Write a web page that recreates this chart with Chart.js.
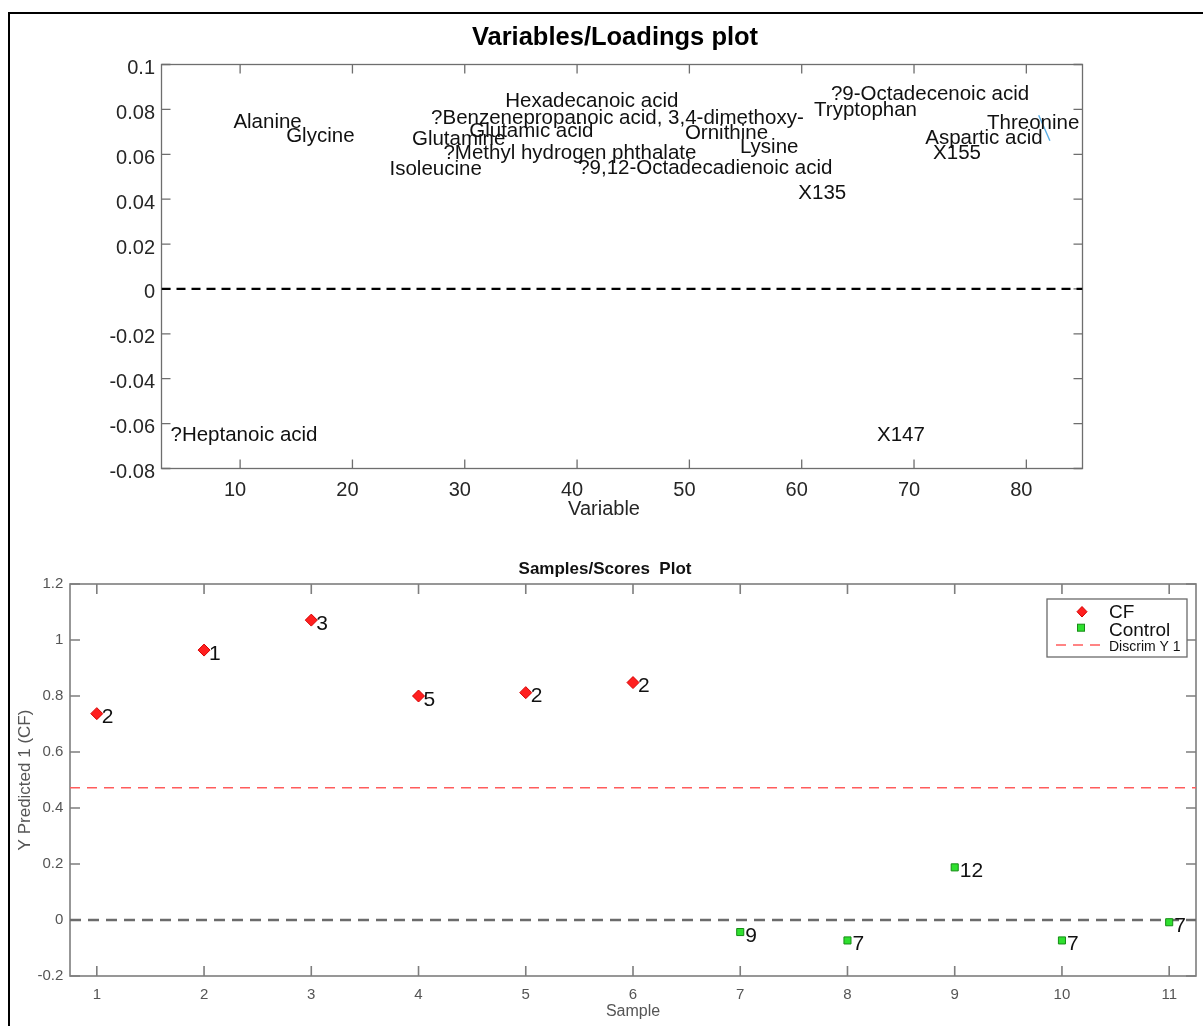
<!DOCTYPE html>
<html>
<head>
<meta charset="utf-8">
<title>Variables/Loadings plot</title>
<script src="https://cdn.jsdelivr.net/npm/chart.js@4.4.1/dist/chart.umd.min.js"></script>
<style>
  html, body { margin: 0; padding: 0; background: #fff; }
  body { width: 1203px; height: 1026px; position: relative; overflow: hidden; }
  #frame { position: absolute; left: 8px; top: 12px; right: 0; bottom: 0;
           border-top: 2px solid #000; border-left: 2px solid #000; }
  #topWrap { position: absolute; left: 0; top: 0; }
  #botWrap { position: absolute; left: 0; top: 540px; }
</style>
</head>
<body>
<div id="frame"></div>
<div id="topWrap"><canvas id="loadings" width="1203" height="540"></canvas></div>
<div id="botWrap"><canvas id="scores" width="1203" height="486"></canvas></div>
<script>
// ---- Variables/Loadings plot: variable number, loading, name
const loadNames = ["Alanine", "Glycine", "Isoleucine", "Glutamine",
  "?Benzenepropanoic acid, 3,4-dimethoxy-", "?Methyl hydrogen phthalate",
  "Glutamic acid", "Hexadecanoic acid", "?9,12-Octadecadienoic acid",
  "Ornithine", "Lysine", "X135", "Tryptophan", "?9-Octadecenoic acid",
  "Aspartic acid", "X155", "Threonine", "?Heptanoic acid", "X147"];
const loadX = [9.4, 14.1, 23.3, 25.3, 27.0, 28.1, 30.4, 33.6, 40.1,
  49.6, 54.5, 59.7, 61.1, 62.6, 71.0, 71.7, 76.5, 3.8, 66.7];
const loadY = [0.0744, 0.0682, 0.0532, 0.0666, 0.0762, 0.0604, 0.0700, 0.0838, 0.0537,
  0.0693, 0.0630, 0.0428, 0.0796, 0.0868, 0.0670, 0.0604, 0.0740, -0.0651, -0.0651];
// small blue stroke next to Threonine
const segX = [81.1, 82.1];
const segY = [0.0774, 0.0660];

const loadXRange = [3, 85];
const loadYRange = [-0.08, 0.1];
const loadXTicks = [10, 20, 30, 40, 50, 60, 70, 80];
const loadXLabels = ["10", "20", "30", "40", "50", "60", "70", "80"];
const loadYTicks = [-0.08, -0.06, -0.04, -0.02, 0, 0.02, 0.04, 0.06, 0.08, 0.1];
const loadYLabels = ["-0.08", "-0.06", "-0.04", "-0.02", "0", "0.02", "0.04", "0.06", "0.08", "0.1"];

// ---- Samples/Scores plot
const cfSamples = [1, 2, 3, 4, 5, 6];
const cfScores = [0.737, 0.964, 1.071, 0.800, 0.812, 0.848];
const cfText = ["2", "1", "3", "5", "2", "2"];
const ctrlSamples = [7, 8, 9, 10, 11];
const ctrlScores = [-0.043, -0.073, 0.188, -0.073, -0.008];
const ctrlText = ["9", "7", "12", "7", "7"];
const discrimY = 0.472;

const sampRange = [0.75, 11.25];
const scoreRange = [-0.2, 1.2];
const sampTicks = [1, 2, 3, 4, 5, 6, 7, 8, 9, 10, 11];
const sampLabels = ["1", "2", "3", "4", "5", "6", "7", "8", "9", "10", "11"];
const scoreTicks = [-0.2, 0, 0.2, 0.4, 0.6, 0.8, 1, 1.2];
const scoreLabels = ["-0.2", "0", "0.2", "0.4", "0.6", "0.8", "1", "1.2"];

const FONT = "'Liberation Sans', Arial, Helvetica, sans-serif";
Chart.defaults.font.family = FONT;

function pts(xs, ys) { return xs.map((x, i) => ({ x: x, y: ys[i] })); }

// box around the plot area + inward tick marks on all four sides
const boxTicks = {
  id: 'boxTicks',
  beforeDatasetsDraw(chart, args, opts) {
    const { ctx, chartArea: a, scales: { x, y } } = chart;
    ctx.save();
    ctx.strokeStyle = opts.color;
    ctx.lineWidth = opts.width;
    ctx.strokeRect(a.left, a.top, a.right - a.left, a.bottom - a.top);
    ctx.beginPath();
    x.ticks.forEach(t => {
      const px = x.getPixelForValue(t.value);
      ctx.moveTo(px, a.bottom); ctx.lineTo(px, a.bottom - opts.len);
      ctx.moveTo(px, a.top); ctx.lineTo(px, a.top + opts.len);
    });
    y.ticks.forEach(t => {
      const py = y.getPixelForValue(t.value);
      ctx.moveTo(a.left, py); ctx.lineTo(a.left + opts.len, py);
      ctx.moveTo(a.right, py); ctx.lineTo(a.right - opts.len, py);
    });
    ctx.stroke();
    ctx.restore();
  }
};

// text next to each point of datasets that carry a "names" list
const pointNames = {
  id: 'pointNames',
  afterDatasetsDraw(chart, args, opts) {
    const ctx = chart.ctx;
    chart.data.datasets.forEach((ds, i) => {
      if (!ds.names) return;
      const meta = chart.getDatasetMeta(i);
      ctx.save();
      ctx.font = opts.font;
      ctx.fillStyle = opts.color;
      ctx.textAlign = 'left';
      ctx.textBaseline = 'middle';
      meta.data.forEach((el, j) => ctx.fillText(ds.names[j], el.x + opts.dx, el.y + opts.dy));
      ctx.restore();
    });
  }
};

// free text (titles / labels that are not centred on the axes)
const freeText = {
  id: 'freeText',
  afterDraw(chart, args, opts) {
    const ctx = chart.ctx;
    (opts.items || []).forEach(it => {
      ctx.save();
      ctx.font = it.font;
      ctx.fillStyle = it.color;
      ctx.textAlign = 'center';
      ctx.textBaseline = 'middle';
      ctx.fillText(it.text, it.x, it.y);
      ctx.restore();
    });
  }
};

// MATLAB style legend box
const boxLegend = {
  id: 'boxLegend',
  afterDraw(chart, args, opts) {
    const ctx = chart.ctx;
    const ds = chart.data.datasets;
    const b = opts.box;
    ctx.save();
    ctx.fillStyle = '#fff';
    ctx.strokeStyle = '#6a6a6a';
    ctx.lineWidth = 1.3;
    ctx.fillRect(b.x, b.y, b.w, b.h);
    ctx.strokeRect(b.x, b.y, b.w, b.h);

    // CF diamond
    ctx.beginPath();
    ctx.moveTo(1082, 66.5); ctx.lineTo(1087, 71.7); ctx.lineTo(1082, 77); ctx.lineTo(1077, 71.7);
    ctx.closePath();
    ctx.fillStyle = ds[0].backgroundColor; ctx.fill();
    ctx.strokeStyle = ds[0].borderColor; ctx.lineWidth = 1; ctx.stroke();
    // Control square
    ctx.fillStyle = ds[1].backgroundColor;
    ctx.fillRect(1077.5, 84.2, 7, 7);
    ctx.strokeStyle = ds[1].borderColor;
    ctx.strokeRect(1077.5, 84.2, 7, 7);
    // discrim dashed line
    ctx.beginPath();
    ctx.setLineDash(ds[2].borderDash);
    ctx.strokeStyle = ds[2].borderColor;
    ctx.lineWidth = ds[2].borderWidth;
    ctx.moveTo(1056, 105); ctx.lineTo(1105, 105);
    ctx.stroke();
    ctx.setLineDash([]);

    ctx.fillStyle = '#111';
    ctx.textAlign = 'left';
    ctx.textBaseline = 'middle';
    ctx.font = '19px ' + FONT;
    ctx.fillText(ds[0].label, 1109, 73);
    ctx.fillText(ds[1].label, 1109, 91);
    ctx.font = '14px ' + FONT;
    ctx.fillText(ds[2].label, 1109, 107);
    ctx.restore();
  }
};

// ---------------- top chart ----------------
new Chart(document.getElementById('loadings'), {
  type: 'scatter',
  data: {
    datasets: [
      { label: 'Loadings', data: pts(loadX, loadY), names: loadNames,
        pointRadius: 0, pointHoverRadius: 0, pointHitRadius: 0 },
      { type: 'line', label: 'zero', data: pts(loadXRange, [0, 0]),
        borderColor: '#000', borderWidth: 2.3, borderDash: [9, 6], pointRadius: 0, fill: false },
      { type: 'line', label: 'seg', data: pts(segX, segY),
        borderColor: '#5aaee6', borderWidth: 1.4, pointRadius: 0, fill: false }
    ]
  },
  options: {
    responsive: false,
    animation: false,
    events: [],
    layout: { padding: { left: 0, right: 120.5, top: 64.5, bottom: 0 } },
    plugins: {
      legend: { display: false },
      tooltip: { enabled: false },
      title: { display: false },
      boxTicks: { color: '#6e6e6e', width: 1.3, len: 9 },
      pointNames: { font: '20.5px ' + FONT, color: '#111', dx: 0, dy: 0 },
      freeText: { items: [
        { text: 'Variables/Loadings plot', x: 615, y: 38, font: 'bold 25.5px ' + FONT, color: '#000' },
        { text: 'Variable', x: 604, y: 509, font: '20px ' + FONT, color: '#262626' }
      ] }
    },
    scales: {
      x: {
        type: 'linear', min: loadXRange[0], max: loadXRange[1],
        afterBuildTicks: s => { s.ticks = loadXTicks.map(v => ({ value: v })); },
        afterFit: s => { s.height = 71.5; },
        grid: { display: false, drawTicks: false },
        border: { display: false },
        ticks: { autoSkip: false, maxRotation: 0, padding: 10, labelOffset: -5,
                 color: '#262626', font: { size: 20 },
                 callback: (v, i) => loadXLabels[i] }
      },
      y: {
        type: 'linear', min: loadYRange[0], max: loadYRange[1],
        afterBuildTicks: s => { s.ticks = loadYTicks.map(v => ({ value: v })); },
        afterFit: s => { s.width = 161.5; },
        grid: { display: false, drawTicks: false },
        border: { display: false },
        ticks: { autoSkip: false, padding: 6.5, labelOffset: 4,
                 color: '#262626', font: { size: 20 },
                 callback: (v, i) => loadYLabels[i] }
      }
    }
  },
  plugins: [boxTicks, pointNames, freeText]
});

// ---------------- bottom chart ----------------
new Chart(document.getElementById('scores'), {
  type: 'scatter',
  data: {
    datasets: [
      { label: 'CF', data: pts(cfSamples, cfScores), names: cfText,
        pointStyle: 'rectRot', pointRadius: 6, pointHoverRadius: 6,
        backgroundColor: '#ff1f1f', borderColor: '#d60000', borderWidth: 1 },
      { label: 'Control', data: pts(ctrlSamples, ctrlScores), names: ctrlText,
        pointStyle: 'rect', pointRadius: 5, pointHoverRadius: 5,
        backgroundColor: '#2fe02f', borderColor: '#168c16', borderWidth: 1 },
      { type: 'line', label: 'Discrim Y 1', data: pts(sampRange, [discrimY, discrimY]),
        borderColor: '#ff5c5c', borderWidth: 1.5, borderDash: [10, 7], pointRadius: 0, fill: false },
      { type: 'line', label: 'zero', data: pts(sampRange, [0, 0]),
        borderColor: '#6b6b6b', borderWidth: 2.6, borderDash: [11, 7], pointRadius: 0, fill: false }
    ]
  },
  options: {
    responsive: false,
    animation: false,
    events: [],
    layout: { padding: { left: 12, right: 5, top: 0, bottom: 0 } },
    plugins: {
      legend: { display: false },
      tooltip: { enabled: false },
      title: {
        display: true, text: 'Samples/Scores  Plot', color: '#111',
        font: { size: 17, weight: 'bold' }, padding: { top: 19.5, bottom: 4.1 }
      },
      boxTicks: { color: '#7e7e7e', width: 1.6, len: 10 },
      pointNames: { font: '21px ' + FONT, color: '#111', dx: 5, dy: 4 },
      boxLegend: { box: { x: 1047, y: 59, w: 140, h: 58 } }
    },
    scales: {
      x: {
        type: 'linear', min: sampRange[0], max: sampRange[1],
        afterBuildTicks: s => { s.ticks = sampTicks.map(v => ({ value: v })); },
        afterFit: s => { s.height = 50; },
        grid: { display: false, drawTicks: false },
        border: { display: false },
        ticks: { autoSkip: false, maxRotation: 0, padding: 9.5,
                 color: '#555', font: { size: 15 },
                 callback: (v, i) => sampLabels[i] },
        title: { display: true, text: 'Sample', color: '#555',
                 font: { size: 16 }, padding: { top: 0, bottom: 4.4 } }
      },
      y: {
        type: 'linear', min: scoreRange[0], max: scoreRange[1],
        afterBuildTicks: s => { s.ticks = scoreTicks.map(v => ({ value: v })); },
        afterFit: s => { s.width = 58; },
        grid: { display: false, drawTicks: false },
        border: { display: false },
        ticks: { autoSkip: false, padding: 6.7,
                 color: '#555', font: { size: 15 },
                 callback: (v, i) => scoreLabels[i] },
        title: { display: true, text: 'Y Predicted 1 (CF)', color: '#555',
                 font: { size: 17 }, padding: { top: 2.8, bottom: 0 } }
      }
    }
  },
  plugins: [boxTicks, pointNames, boxLegend]
});
</script>
</body>
</html>
